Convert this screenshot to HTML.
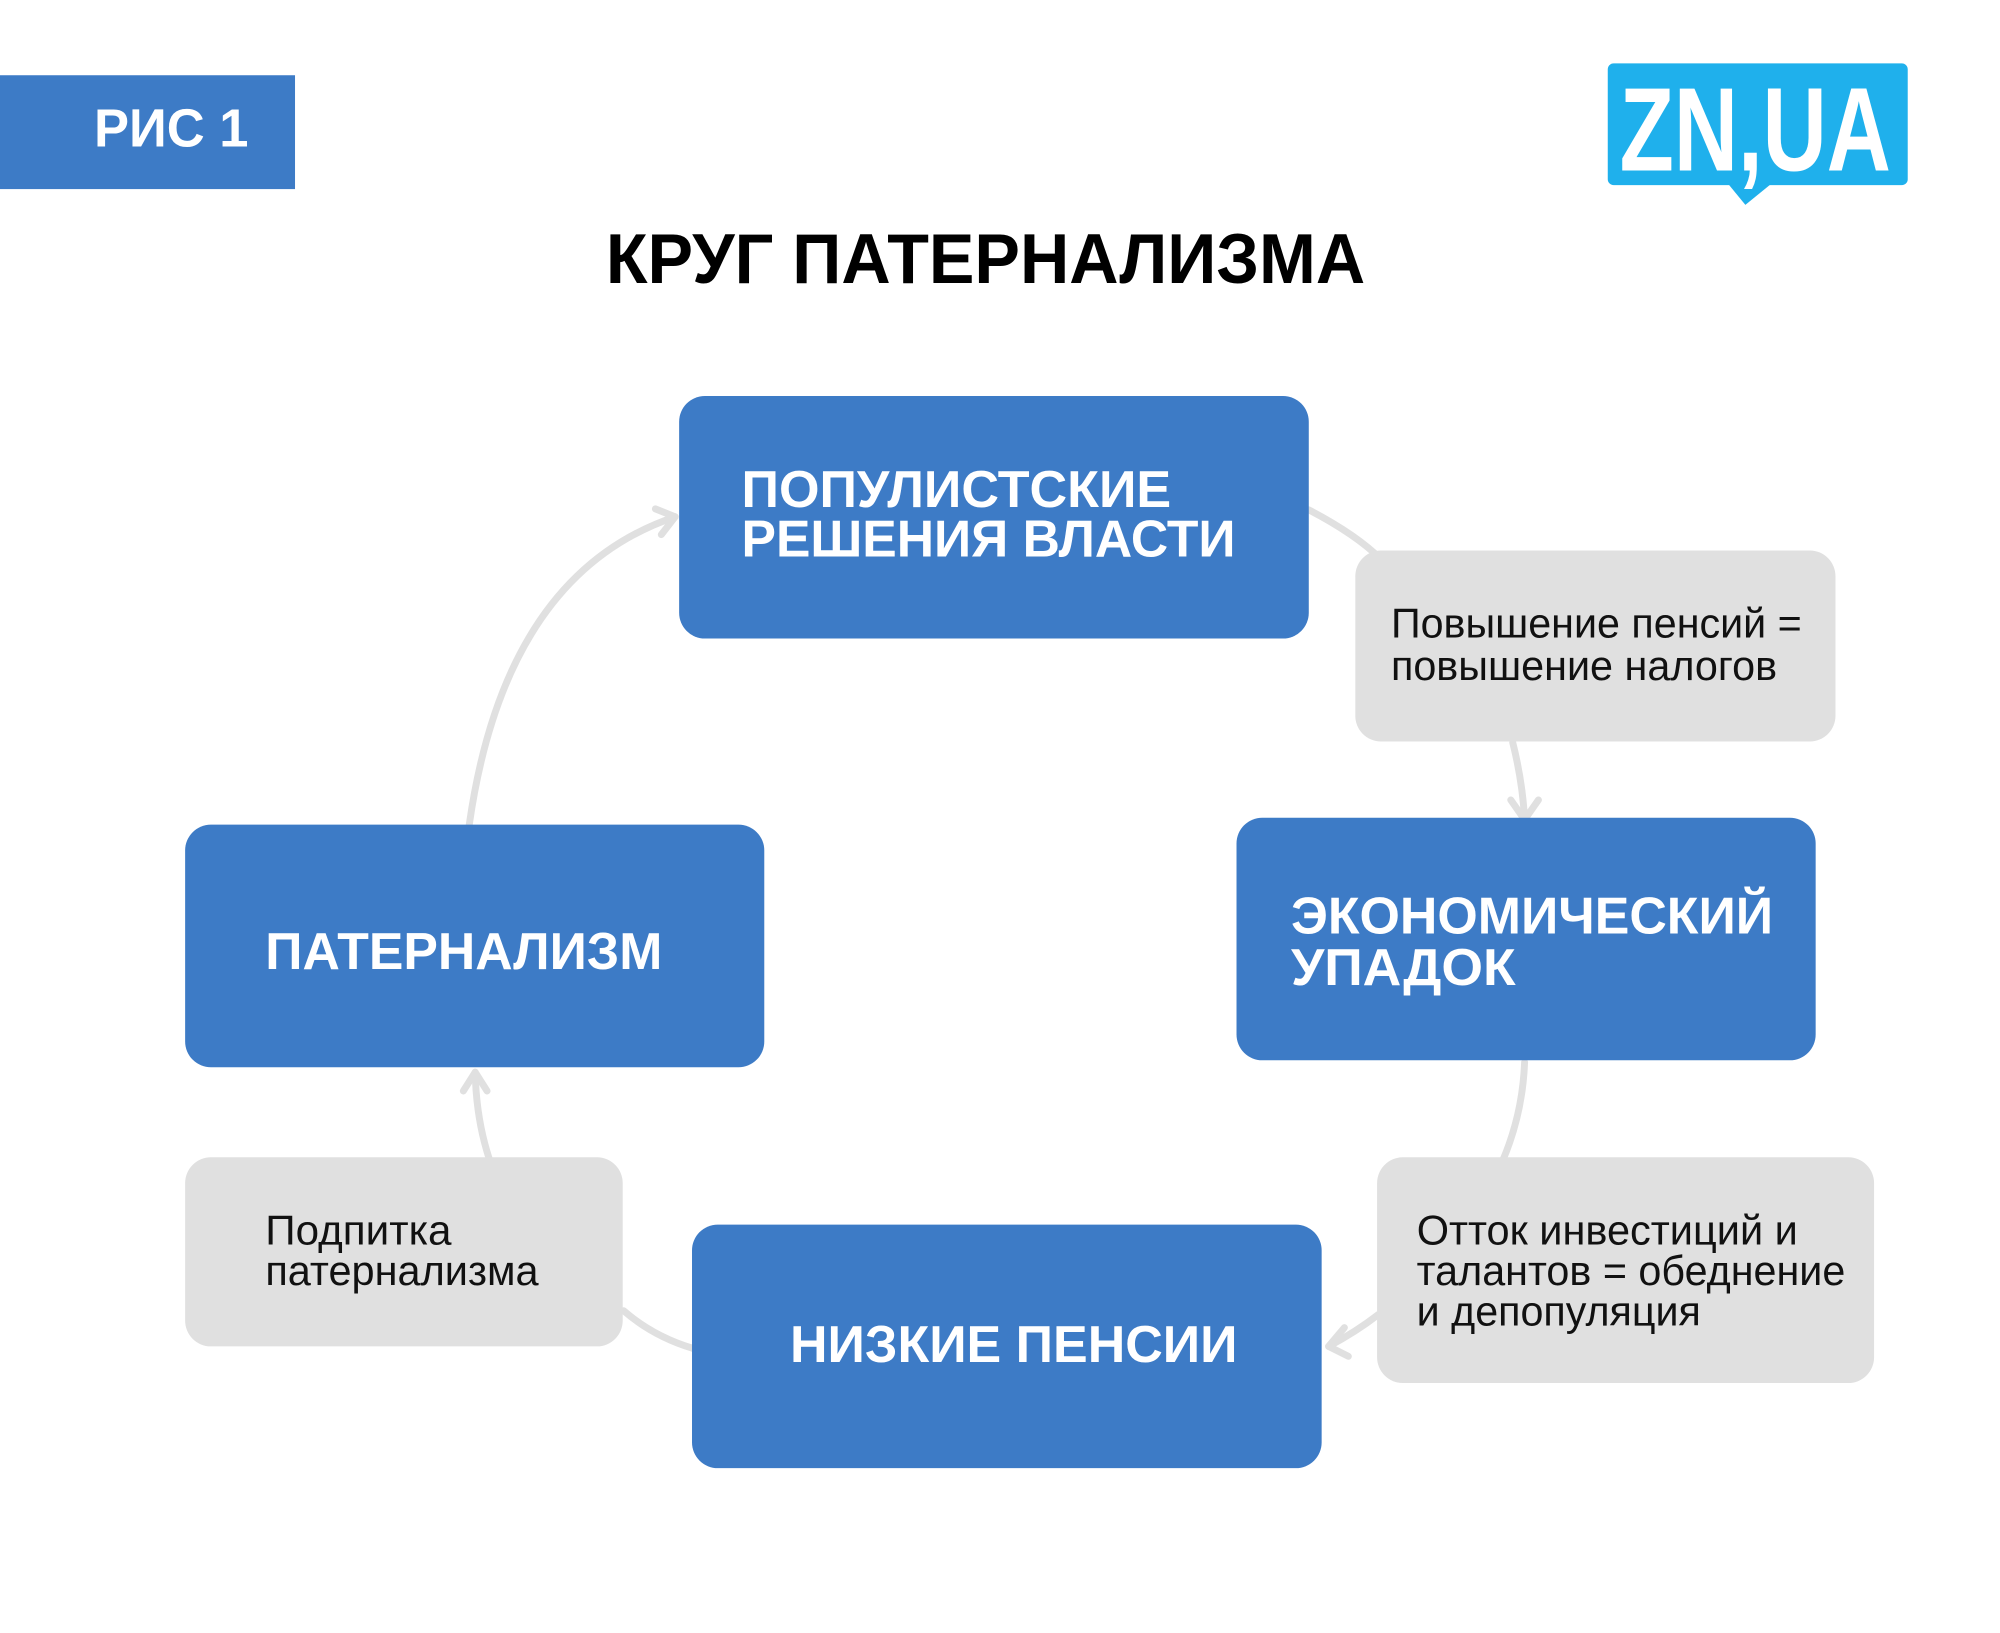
<!DOCTYPE html>
<html><head><meta charset="utf-8"><style>
html,body{margin:0;padding:0;background:#fff;}
svg{display:block;}
</style></head><body>
<svg width="2000" height="1633" viewBox="0 0 2000 1633" xmlns="http://www.w3.org/2000/svg">
<rect width="2000" height="1633" fill="#fff"/>
<g transform="scale(0.99)">
<!-- header -->
<rect x="0" y="76" width="298" height="115" fill="#3d7bc6"/>
<text x="95" y="148" font-family="Liberation Sans, sans-serif" font-weight="bold" font-size="54" fill="#fff" textLength="156" lengthAdjust="spacingAndGlyphs">РИС 1</text>
<!-- logo -->
<rect x="1624" y="64" width="303" height="123" rx="6" fill="#1fb0ec"/>
<polygon points="1745,185 1790,185 1763,207" fill="#1fb0ec"/>
<text x="1636" y="172" font-family="Liberation Sans, sans-serif" font-weight="bold" font-size="120" fill="#fff" textLength="274" lengthAdjust="spacingAndGlyphs">ZN,UA</text>
<!-- title -->
<text x="612" y="286" font-family="Liberation Sans, sans-serif" font-weight="bold" font-size="71" fill="#000" textLength="767" lengthAdjust="spacingAndGlyphs">КРУГ ПАТЕРНАЛИЗМА</text>

<!-- connectors -->
<g fill="none" stroke="#e0e0e0" stroke-width="7" stroke-linecap="round" stroke-linejoin="round">
<path d="M1322,515 Q1370,540 1395,565"/>
<path d="M1528,750 Q1538,790 1540,828"/>
<polyline points="1526,808 1540,828 1554,808"/>
<path d="M1540,1073 Q1538,1125 1518,1172"/>
<path d="M1392,1328 Q1370,1345 1342,1360"/>
<polyline points="1358,1341 1342,1360 1362,1370"/>
<path d="M630,1324 Q660,1350 700,1362"/>
<path d="M494,1170 Q481,1130 480,1083"/>
<polyline points="468,1102 480,1083 492,1102"/>
<path d="M474,833 Q510,580 682,522"/>
<polyline points="662,514 682,522 668,540"/>
</g>

<!-- blue boxes -->
<g fill="#3d7bc6">
<rect x="686" y="400" width="636" height="245" rx="26"/>
<rect x="187" y="833" width="585" height="245" rx="26"/>
<rect x="1249" y="826" width="585" height="245" rx="26"/>
<rect x="699" y="1237" width="636" height="246" rx="26"/>
</g>
<g font-family="Liberation Sans, sans-serif" font-weight="bold" font-size="52" fill="#fff">
<text x="749" y="512" textLength="434" lengthAdjust="spacingAndGlyphs">ПОПУЛИСТСКИЕ</text>
<text x="749" y="562" textLength="499" lengthAdjust="spacingAndGlyphs">РЕШЕНИЯ ВЛАСТИ</text>
<text x="268" y="979" textLength="401" lengthAdjust="spacingAndGlyphs">ПАТЕРНАЛИЗМ</text>
<text x="1304" y="943" textLength="487" lengthAdjust="spacingAndGlyphs">ЭКОНОМИЧЕСКИЙ</text>
<text x="1304" y="995" textLength="227" lengthAdjust="spacingAndGlyphs">УПАДОК</text>
<text x="798" y="1376" textLength="452" lengthAdjust="spacingAndGlyphs">НИЗКИЕ ПЕНСИИ</text>
</g>

<!-- gray boxes -->
<g fill="#e0e0e0">
<rect x="1369" y="556" width="485" height="193" rx="26"/>
<rect x="187" y="1169" width="442" height="191" rx="26"/>
<rect x="1391" y="1169" width="502" height="228" rx="26"/>
</g>
<g font-family="Liberation Sans, sans-serif" font-size="42" fill="#111">
<text x="1405" y="644" textLength="415" lengthAdjust="spacingAndGlyphs">Повышение пенсий =</text>
<text x="1405" y="687" textLength="390" lengthAdjust="spacingAndGlyphs">повышение налогов</text>
<text x="268" y="1257" textLength="188" lengthAdjust="spacingAndGlyphs">Подпитка</text>
<text x="268" y="1298" textLength="276" lengthAdjust="spacingAndGlyphs">патернализма</text>
<text x="1431" y="1257" textLength="385" lengthAdjust="spacingAndGlyphs">Отток инвестиций и</text>
<text x="1431" y="1298" textLength="433" lengthAdjust="spacingAndGlyphs">талантов = обеднение</text>
<text x="1431" y="1339" textLength="287" lengthAdjust="spacingAndGlyphs">и депопуляция</text>
</g>
</g>
</svg>
</body></html>
